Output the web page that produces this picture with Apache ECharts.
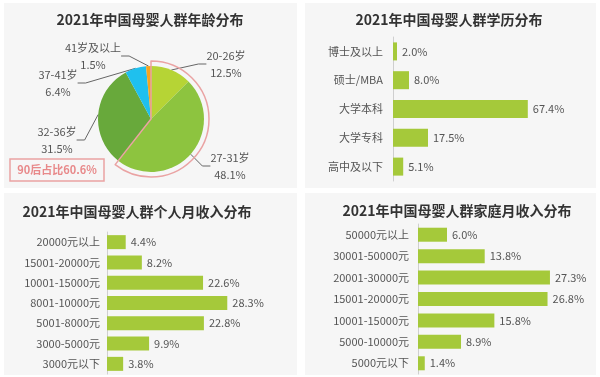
<!DOCTYPE html>
<html>
<head>
<meta charset="utf-8">
<script src="https://cdn.jsdelivr.net/npm/echarts@6/dist/echarts.min.js"></script>
<style>
  html, body { margin: 0; padding: 0; background: #fff; }
  #main { width: 600px; height: 377px; }
</style>
</head>
<body>
<div id="main"></div>
<script>
// 年龄分布
var ageNames = ['20-26岁', '27-31岁', '32-36岁', '37-41岁', '41岁及以上'];
var ageValues = [12.5, 48.1, 31.5, 6.4, 1.5];
var post90Share = 60.6;
// 学历分布
var eduNames = ['博士及以上', '硕士/MBA', '大学本科', '大学专科', '高中及以下'];
var eduValues = [2.0, 8.0, 67.4, 17.5, 5.1];
// 个人月收入
var incomeNames = ['20000元以上', '15001-20000元', '10001-15000元', '8001-10000元', '5001-8000元', '3000-5000元', '3000元以下'];
var incomeValues = [4.4, 8.2, 22.6, 28.3, 22.8, 9.9, 3.8];
// 家庭月收入
var familyNames = ['50000元以上', '30001-50000元', '20001-30000元', '15001-20000元', '10001-15000元', '5000-10000元', '5000元以下'];
var familyValues = [6.0, 13.8, 27.3, 26.8, 15.8, 8.9, 1.4];

var FONT = '"Noto Sans CJK SC", "Noto Sans", sans-serif';
var barColor = '#a5c93a';
var pieColors = ['#b6d435', '#8dc43f', '#68a93b', '#1fc0ee', '#f6a41e'];
// 饼图标签位置（文字中心）
var ageLabelPos = [[226, 64], [230, 166], [57, 140], [58, 83], [93, 56]];

function pct(v) { return v.toFixed(1) + '%'; }

function makeTitle(text, x, y) {
  return {
    text: text, left: x, top: y, textAlign: 'center', padding: 0,
    textStyle: { fontSize: 14, fontWeight: 'bold', color: '#333', fontFamily: FONT }
  };
}

function catAxis(idx, names, margin) {
  return {
    type: 'category', gridIndex: idx, data: names, inverse: true,
    axisLine: { show: true, lineStyle: { color: '#cfcfcf', width: 1 } },
    axisTick: { show: false },
    axisLabel: { color: '#555', fontSize: 11, margin: margin, fontFamily: FONT }
  };
}

function valAxis(idx, max) {
  return { type: 'value', gridIndex: idx, min: 0, max: max, show: false };
}

function barSeries(idx, values, width) {
  return {
    type: 'bar', xAxisIndex: idx, yAxisIndex: idx, data: values,
    barWidth: width, silent: true,
    itemStyle: { color: barColor },
    label: {
      show: true, position: 'right', distance: 5, color: '#555', fontSize: 11, fontFamily: FONT,
      formatter: function (p) { return pct(p.value); }
    }
  };
}

var chart = echarts.init(document.getElementById('main'));
chart.setOption({
  backgroundColor: '#fff',
  animation: false,
  title: [
    makeTitle('2021年中国母婴人群年龄分布', 150, 13),
    makeTitle('2021年中国母婴人群学历分布', 449, 13),
    makeTitle('2021年中国母婴人群个人月收入分布', 137, 205),
    makeTitle('2021年中国母婴人群家庭月收入分布', 457, 204)
  ],
  graphic: [
    { type: 'rect', z: -10, shape: { x: 4, y: 3, width: 293, height: 185 }, style: { fill: '#f6f6f6' } },
    { type: 'rect', z: -10, shape: { x: 305, y: 3, width: 291, height: 185 }, style: { fill: '#f6f6f6' } },
    { type: 'rect', z: -10, shape: { x: 4, y: 193, width: 293, height: 182 }, style: { fill: '#f6f6f6' } },
    { type: 'rect', z: -10, shape: { x: 305, y: 193, width: 291, height: 182 }, style: { fill: '#f6f6f6' } },
    { type: 'rect', z: 10, shape: { x: 10, y: 159, width: 94, height: 22 },
      style: { fill: 'none', stroke: '#eaa3a3', lineWidth: 1.5 } },
    { type: 'text', z: 11, x: 57, y: 170,
      style: { text: '90后占比' + post90Share.toFixed(1) + '%', fill: '#e8898a', font: 'bold 11px ' + FONT,
               textAlign: 'center', textVerticalAlign: 'middle' } }
  ],
  grid: [
    { left: 393, top: 37, width: 200, height: 144 },
    { left: 107, top: 232, width: 170, height: 142 },
    { left: 418, top: 224, width: 174, height: 150 }
  ],
  xAxis: [valAxis(0, 100), valAxis(1, 40), valAxis(2, 36)],
  yAxis: [catAxis(0, eduNames, 10), catAxis(1, incomeNames, 7), catAxis(2, familyNames, 9)],
  series: [
    {
      type: 'pie', center: [151, 119], radius: 53, startAngle: 90, clockwise: true,
      silent: true,
      data: ageNames.map(function (n, i) {
        return { name: n, value: ageValues[i], itemStyle: { color: pieColors[i] } };
      }),
      label: {
        show: true, color: '#555', fontSize: 11, lineHeight: 17, fontFamily: FONT,
        formatter: function (p) { return p.name + '\n' + pct(p.value); }
      },
      labelLine: { show: true, length: 8, length2: 8, lineStyle: { color: '#666', width: 1 } },
      labelLayout: function (p) {
        var pos = ageLabelPos[p.dataIndex];
        return { x: pos[0], y: pos[1], align: 'center', verticalAlign: 'middle' };
      }
    },
    {
      type: 'pie', center: [151, 119], radius: 58, startAngle: 90, clockwise: true,
      silent: true, z: 3,
      label: { show: false }, labelLine: { show: false },
      data: [
        { value: post90Share, itemStyle: { color: 'rgba(0,0,0,0)', borderColor: '#eaa3a3', borderWidth: 1.5 } },
        { value: 100 - post90Share, itemStyle: { color: 'rgba(0,0,0,0)', borderWidth: 0 } }
      ]
    },
    barSeries(0, eduValues, 18),
    barSeries(1, incomeValues, 14),
    barSeries(2, familyValues, 14)
  ]
});
</script>
</body>
</html>
